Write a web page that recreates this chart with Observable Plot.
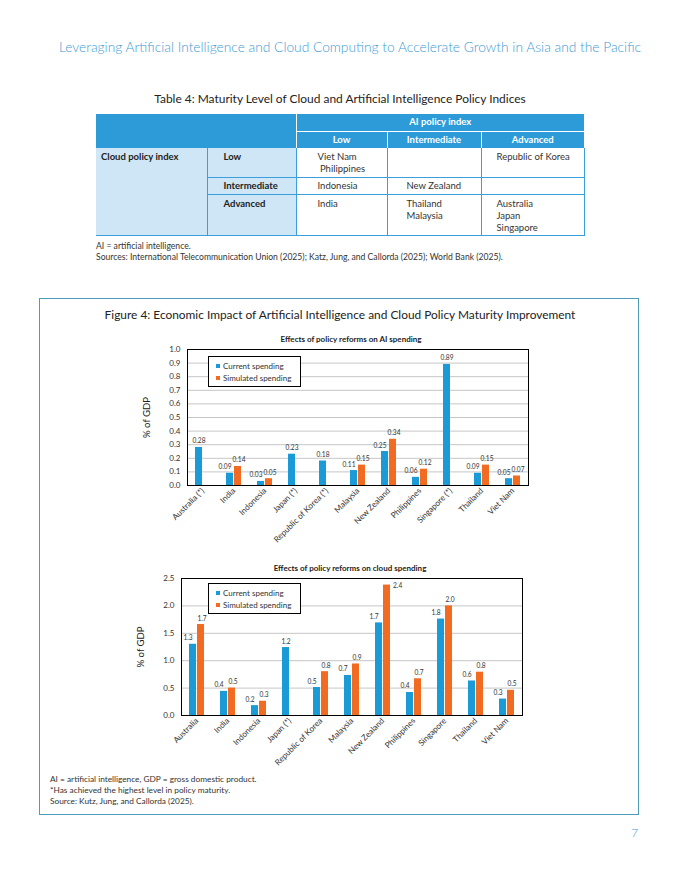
<!DOCTYPE html>
<html>
<head>
<meta charset="utf-8">
<script src="https://cdn.jsdelivr.net/npm/d3@7"></script>
<script src="https://cdn.jsdelivr.net/npm/@observablehq/plot@0.6"></script>
<style>
  html, body { margin: 0; padding: 0; background: #fff; }
  #page { position: relative; width: 680px; height: 880px; font-family: Lato, "Open Sans", sans-serif; color: #333; overflow: hidden; }
  .abs { position: absolute; white-space: nowrap; line-height: 1; }
  .center { transform: translateX(-50%); }
  #header { left: 350px; top: 40px; font-size: 13.75px; font-weight: 300; color: #3f9bd2; }
  #tabletitle { left: 340px; top: 93px; font-size: 11.95px; color: #222; }
  #tbl { position: absolute; left: 96px; top: 114px; width: 488px; border-collapse: collapse; table-layout: fixed; font-size: 9.5px; color: #333; }
  #tbl td { padding: 0; vertical-align: top; line-height: 12px; }
  .hd { background: #2d9bd8; color: #fff; font-weight: bold; text-align: center; vertical-align: middle !important; }
  .lb { background: #cfe6f6; font-weight: bold; color: #222; }
  .dc { background: #fff; border-bottom: 1px solid #3a9fda; border-right: 1px solid #3a9fda; }
  .tnote { left: 96px; font-size: 8.6px; color: #333; }
  #figbox { position: absolute; left: 39px; top: 298px; width: 600px; height: 517px; border: 1.3px solid #4d9cb8; box-sizing: border-box; }
  #figtitle { left: 340px; top: 309px; font-size: 11.9px; color: #222; }
  .subt { font-size: 8px; font-weight: bold; color: #222; }
  .legend { position: absolute; width: 93px; height: 31px; border: 1px solid #000; background: #fff; box-sizing: border-box; font-size: 8px; color: #333; z-index: 2; }
  .legend .row { position: absolute; left: 7px; white-space: nowrap; line-height: 1; }
  .legend .sw { display: inline-block; width: 4px; height: 4px; margin-right: 3px; vertical-align: 1px; }
  .fnote { left: 50px; font-size: 8.3px; color: #333; }
  #pagenum { left: 631px; top: 827px; font-size: 12.5px; font-weight: 300; color: #3f9bd2; }
  .chart { position: absolute; z-index: 1; }
</style>
</head>
<body>
<div id="page">
  <div id="header" class="abs center">Leveraging Artificial Intelligence and Cloud Computing to Accelerate Growth in Asia and the Pacific</div>
  <div id="tabletitle" class="abs center">Table 4: Maturity Level of Cloud and Artificial Intelligence Policy Indices</div>
  <table id="tbl">
    <colgroup><col style="width:111px"><col style="width:89px"><col style="width:91px"><col style="width:94px"><col style="width:103px"></colgroup>
    <tr style="height:17px">
      <td class="hd" colspan="2" rowspan="2"></td>
      <td class="hd" colspan="3" style="border-left:1px solid #fff;border-bottom:1px solid #fff">AI policy index</td>
    </tr>
    <tr style="height:17px">
      <td class="hd" style="border-left:1px solid #fff">Low</td>
      <td class="hd" style="border-left:1px solid #fff">Intermediate</td>
      <td class="hd" style="border-left:1px solid #fff">Advanced</td>
    </tr>
    <tr style="height:29px">
      <td class="lb" rowspan="3" style="padding:3px 0 0 5px;border-right:1px solid #3a9fda;border-bottom:1px solid #3a9fda">Cloud policy index</td>
      <td class="lb" style="padding:3px 0 0 16px;border-bottom:1px solid #3a9fda;border-right:1px solid #3a9fda">Low</td>
      <td class="dc" style="padding:3px 0 0 21px">Viet Nam<br>&nbsp;Philippines</td>
      <td class="dc"></td>
      <td class="dc" style="padding:3px 0 0 15px">Republic of Korea</td>
    </tr>
    <tr style="height:17px">
      <td class="lb" style="padding:2px 0 0 16px;border-bottom:1px solid #3a9fda;border-right:1px solid #3a9fda">Intermediate</td>
      <td class="dc" style="padding:2px 0 0 21px">Indonesia</td>
      <td class="dc" style="padding:2px 0 0 19px">New Zealand</td>
      <td class="dc"></td>
    </tr>
    <tr style="height:41px">
      <td class="lb" style="padding:3px 0 0 16px;border-bottom:1px solid #3a9fda;border-right:1px solid #3a9fda">Advanced</td>
      <td class="dc" style="padding:3px 0 0 21px">India</td>
      <td class="dc" style="padding:3px 0 0 19px">Thailand<br>Malaysia</td>
      <td class="dc" style="padding:3px 0 0 15px">Australia<br>Japan<br>Singapore</td>
    </tr>
  </table>
  <div class="abs tnote" style="top:242px">AI = artificial intelligence.</div>
  <div class="abs tnote" style="top:253px">Sources: International Telecommunication Union (2025); Katz, Jung, and Callorda (2025); World Bank (2025).</div>

  <div id="figbox"></div>
  <div id="figtitle" class="abs center">Figure 4: Economic Impact of Artificial Intelligence and Cloud Policy Maturity Improvement</div>
  <div class="abs center subt" style="left:351px;top:335px">Effects of policy reforms on AI spending</div>
  <div class="abs center subt" style="left:350px;top:564px">Effects of policy reforms on cloud spending</div>
  <div id="chart1" class="chart" style="left:120px;top:345px"></div>
  <div id="chart2" class="chart" style="left:114px;top:574px"></div>
  <div id="legend1" class="legend" style="left:208px;top:356px"></div>
  <div id="legend2" class="legend" style="left:208px;top:583px"></div>
  <div class="abs fnote" style="top:775px">AI = artificial intelligence, GDP = gross domestic product.</div>
  <div class="abs fnote" style="top:786px">*Has achieved the highest level in policy maturity.</div>
  <div class="abs fnote" style="top:797px">Source: Kutz, Jung, and Callorda (2025).</div>
  <div id="pagenum" class="abs">7</div>
</div>
<script>
// ---- Data ----
const seriesNames = ["Current spending", "Simulated spending"];
const seriesColors = ["#1a9ad6", "#f26b22"];

const aiCountries = ["Australia (*)", "India", "Indonesia", "Japan (*)", "Republic of Korea (*)", "Malaysia", "New Zealand", "Philippines", "Singapore (*)", "Thailand", "Viet Nam"];
const aiCurrent   = [0.28, 0.09, 0.03, 0.23, 0.18, 0.11, 0.25, 0.06, 0.89, 0.09, 0.05];
const aiSimulated = [null, 0.14, 0.05, null, null, 0.15, 0.34, 0.12, null, 0.15, 0.07];
const aiTicks = [0, 0.1, 0.2, 0.3, 0.4, 0.5, 0.6, 0.7, 0.8, 0.9, 1.0];

const cloudCountries = ["Australia", "India", "Indonesia", "Japan (*)", "Republic of Korea", "Malaysia", "New Zealand", "Philippines", "Singapore", "Thailand", "Viet Nam"];
const cloudCurrent   = [1.30, 0.44, 0.18, 1.24, 0.51, 0.73, 1.69, 0.42, 1.76, 0.63, 0.30];
const cloudSimulated = [1.66, 0.50, 0.26, null, 0.80, 0.94, 2.38, 0.67, 2.00, 0.79, 0.46];
const cloudTicks = [0, 0.5, 1.0, 1.5, 2.0, 2.5];

function buildRows(countries, current, simulated) {
  const rows = [];
  countries.forEach((c, i) => {
    const paired = simulated[i] != null;
    rows.push({country: c, series: seriesNames[0], value: current[i], paired});
    if (paired) rows.push({country: c, series: seriesNames[1], value: simulated[i], paired});
  });
  return rows;
}

function makeChart(el, {countries, current, simulated, ticks, labelFmt, width, height, marginLeft, marginRight, marginTop, marginBottom}) {
  const rows = buildRows(countries, current, simulated);
  const yMax = ticks[ticks.length - 1];
  const fmt = d3.format(labelFmt);
  const high = d => d.value > 0.92 * yMax;
  const txt = {fx: "country", x: "series", y: "value", text: d => fmt(d.value), fontSize: 6.6, fill: "#333", lineAnchor: "bottom"};
  const plot = Plot.plot({
    width, height, marginLeft, marginRight, marginTop, marginBottom,
    style: {fontFamily: "Lato, 'Open Sans', sans-serif", fontSize: "8px", color: "#333", background: "transparent", overflow: "visible"},
    fx: {domain: countries, padding: 0, label: null},
    x: {domain: seriesNames, axis: null, paddingInner: 0.12, paddingOuter: 0.96},
    y: {domain: [0, yMax], label: "% of GDP"},
    color: {domain: seriesNames, range: seriesColors},
    marks: [
      Plot.gridY(ticks, {stroke: "#c6c6c6", strokeOpacity: 1}),
      Plot.barY(rows, {fx: "country", x: "series", y: "value", fill: "series"}),
      Plot.text(rows.filter(d => d.series === seriesNames[0] && !d.paired), {...txt, dy: -4}),
      Plot.text(rows.filter(d => d.series === seriesNames[0] && d.paired), {...txt, dy: -4, dx: -5}),
      Plot.text(rows.filter(d => d.series === seriesNames[1] && !high(d)), {...txt, dy: -4, dx: 1}),
      Plot.text(rows.filter(d => d.series === seriesNames[1] && high(d)), {...txt, lineAnchor: "middle", textAnchor: "start", dx: 6, dy: 1}),
      Plot.frame({facet: "super", stroke: "#000", strokeWidth: 1}),
      Plot.axisY({ticks, tickFormat: d3.format(".1f"), tickSize: 0, tickPadding: 7, fontSize: 8, label: null}),
      Plot.axisY({ticks: [], tickSize: 0, fontSize: 9.6, fill: "#222", label: "% of GDP", labelArrow: "none", labelAnchor: "center", labelOffset: 44}),
      Plot.axisFx({anchor: "bottom", tickRotate: -45, tickSize: 0, tickPadding: 4, fontSize: 8.2, label: null})
    ]
  });
  document.getElementById(el).appendChild(plot);
}

function makeLegend(el) {
  const box = document.getElementById(el);
  seriesNames.forEach((name, i) => {
    const row = document.createElement("div");
    row.className = "row";
    row.style.top = (5 + i * 11.7) + "px";
    const sw = document.createElement("span");
    sw.className = "sw";
    sw.style.background = seriesColors[i];
    row.appendChild(sw);
    row.appendChild(document.createTextNode(name));
    box.appendChild(row);
  });
}

makeChart("chart1", {countries: aiCountries, current: aiCurrent, simulated: aiSimulated, ticks: aiTicks, labelFmt: ".2f",
  width: 440, height: 210, marginLeft: 62, marginRight: 27, marginTop: 4, marginBottom: 70});
makeChart("chart2", {countries: cloudCountries, current: cloudCurrent, simulated: cloudSimulated, ticks: cloudTicks, labelFmt: ".1f",
  width: 440, height: 211, marginLeft: 62, marginRight: 28, marginTop: 4, marginBottom: 70});
makeLegend("legend1");
makeLegend("legend2");
</script>
</body>
</html>
